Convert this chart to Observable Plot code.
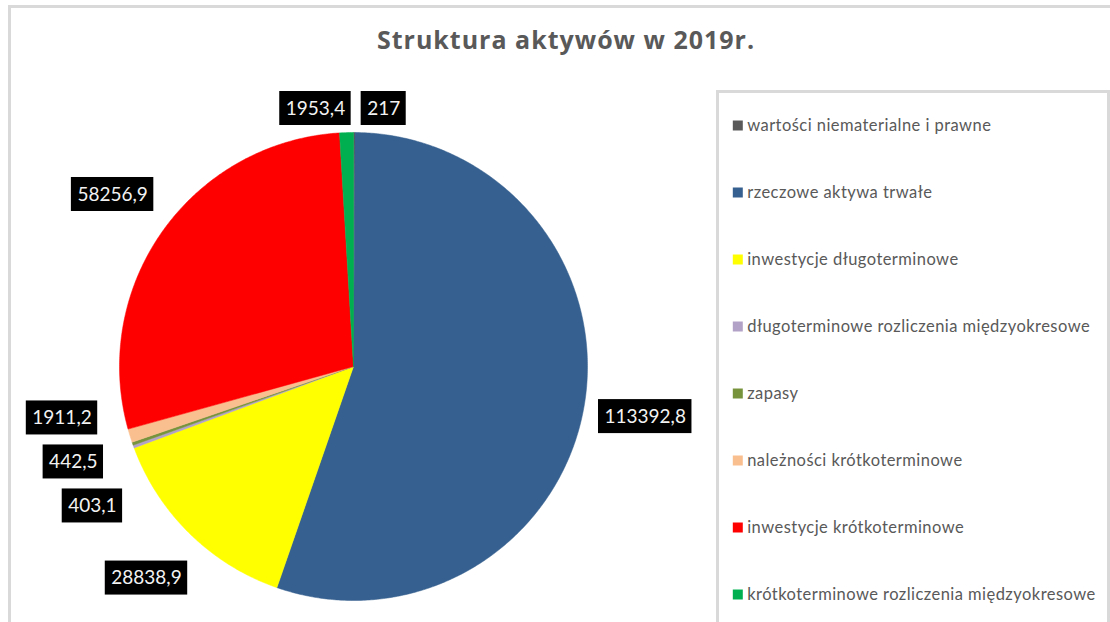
<!DOCTYPE html>
<html>
<head>
<meta charset="utf-8">
<script src="https://cdn.jsdelivr.net/npm/d3@7"></script>
<script src="https://cdn.jsdelivr.net/npm/@observablehq/plot@0.6"></script>
<style>
  html, body { margin: 0; padding: 0; background: #fff; }
  #root { position: relative; width: 1110px; height: 622px; overflow: hidden; background: #fff; font-family: Lato, "Open Sans", sans-serif; }
  #frame { position: absolute; left: 8px; top: 5px; width: 1300px; height: 800px; border: 3px solid #d9d9d9; box-sizing: border-box; }
  #pie { position: absolute; left: 0; top: 0; }
  #title { position: absolute; left: 0; top: 22px; width: 1132px; text-align: center; font: bold 25px/1.362 "Open Sans", sans-serif; letter-spacing: 1px; color: #595959; white-space: nowrap; }
  #legend { position: absolute; left: 716px; top: 90px; width: 394px; height: 600px; border: 3px solid #d9d9d9; box-sizing: border-box; background: #fff; }
</style>
</head>
<body>
<div id="root">
  <div id="frame"></div>
  <div id="pie"></div>
  <div id="title">Struktura aktywów w 2019r.</div>
  <div id="legend"></div>
</div>
<script>
// ---- data ----
const categories = [
  "wartości niematerialne i prawne",
  "rzeczowe aktywa trwałe",
  "inwestycje długoterminowe",
  "długoterminowe rozliczenia międzyokresowe",
  "zapasy",
  "należności krótkoterminowe",
  "inwestycje krótkoterminowe",
  "krótkoterminowe rozliczenia międzyokresowe"
];
const values = [217, 113392.8, 28838.9, 403.1, 442.5, 1911.2, 58256.9, 1953.4];
const colors = ["#595959", "#36608f", "#ffff00", "#b3a2c7", "#77933c", "#fabf8f", "#ff0000", "#00b050"];

// ---- layout ----
const W = 710, H = 622;
const cx = 353, cy = 366, r = 234;
const labelFont = "19px Lato";
const padX = 6, boxH = 34, gap = 10;

const rows = categories.map((cat, i) => ({cat, value: values[i]}));
const arcs = d3.pie().sort(null).value(d => d.value)(rows);

// slice polygons
const verts = [];
for (const p of arcs) {
  const cat = p.data.cat;
  verts.push({cat, px: cx, py: cy});
  const n = Math.max(2, Math.ceil((p.endAngle - p.startAngle) / (Math.PI / 360)));
  for (let k = 0; k <= n; k++) {
    const a = p.startAngle + (p.endAngle - p.startAngle) * k / n;
    verts.push({cat, px: cx + r * Math.sin(a), py: cy - r * Math.cos(a)});
  }
  verts.push({cat, px: cx, py: cy});
}

// labels
const ctx = document.createElement("canvas").getContext("2d");
ctx.font = labelFont;
const fmt = v => String(v).replace(".", ",");
const Rl = r + 62;
const labels = arcs.map(p => {
  const a = (p.startAngle + p.endAngle) / 2;
  const text = fmt(p.data.value);
  const s = Math.sin(a);
  return {
    cat: p.data.cat, text, a,
    w: ctx.measureText(text).width + 2 * padX, h: boxH,
    x: cx + Rl * s, y: cy - Rl * Math.cos(a),
    side: Math.abs(s) > 0.7 ? Math.sign(s) : 0
  };
});
const minY = 108;
for (let it = 0; it < 300; it++) {
  for (const l of labels) if (l.y < minY) l.y = minY;
  for (let i = 0; i < labels.length; i++) {
    for (let j = i + 1; j < labels.length; j++) {
      const A = labels[i], B = labels[j];
      const ox = (A.w + B.w) / 2 + gap - Math.abs(A.x - B.x);
      const oy = (A.h + B.h) / 2 + gap - Math.abs(A.y - B.y);
      if (ox > 0 && oy > 0) {
        if (A.side !== 0 && B.side !== 0) {
          const s = A.y <= B.y ? 1 : -1;
          A.y -= s * oy / 4; B.y += s * oy / 4;
        } else {
          const s = A.x <= B.x ? 1 : -1;
          A.x -= s * ox / 4; B.x += s * ox / 4;
        }
      }
    }
  }
  for (const l of labels) {
    if (l.side !== 0) {
      const dy = l.y - cy;
      l.x = cx + l.side * Math.sqrt(Math.max(0, Rl * Rl - dy * dy));
    }
  }
}

const color = {domain: categories, range: colors};

const pie = Plot.plot({
  width: W, height: H,
  margin: 0,
  style: {background: "transparent", overflow: "visible"},
  x: {domain: [0, W], range: [0, W], axis: null},
  y: {domain: [0, H], range: [0, H], axis: null},
  color,
  marks: [
    Plot.line(verts, {x: "px", y: "py", z: "cat", fill: "cat", stroke: "cat", strokeWidth: 0.5, curve: "linear"}),
    Plot.rect(labels, {x1: d => d.x - d.w / 2, x2: d => d.x + d.w / 2, y1: d => d.y - d.h / 2, y2: d => d.y + d.h / 2, fill: "#000"}),
    Plot.text(labels, {x: "x", y: "y", text: "text", fill: "#f2f2f2", fontSize: 19, fontFamily: "Lato", textAnchor: "middle", lineAnchor: "middle"})
  ]
});
document.getElementById("pie").appendChild(pie);

const legend = Plot.plot({
  width: 388, height: 594,
  margin: 0,
  style: {background: "transparent"},
  y: {type: "point", domain: categories, range: [31.3, 501], padding: 0, axis: null},
  color,
  marks: [
    Plot.dot(categories, {y: d => d, frameAnchor: "left", dx: 18.3, symbol: "square", r: 5.64, fill: d => d, stroke: null}),
    Plot.text(categories, {y: d => d, frameAnchor: "left", dx: 27.7, text: d => d, textAnchor: "start", fill: "#595959", fontSize: 16.5, fontFamily: "Lato"})
  ]
});
legend.querySelectorAll("text").forEach(t => t.style.letterSpacing = "0.45px");
document.getElementById("legend").appendChild(legend);
</script>
</body>
</html>
